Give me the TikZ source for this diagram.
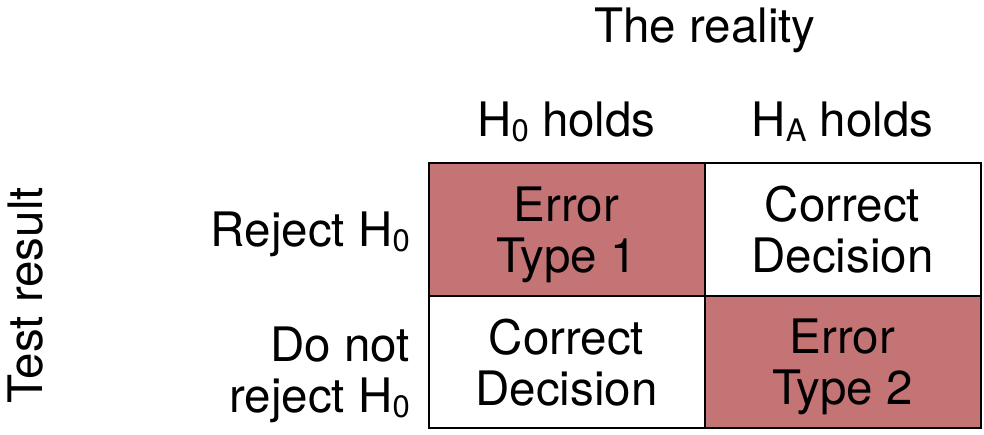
\documentclass[tikz,border=0pt]{standalone}
\usepackage{fontspec}
\setmainfont{TeX Gyre Heros}
\definecolor{errred}{RGB}{196,116,116}
\newcommand{\sbs}[1]{\raisebox{-0.09em}{\fontsize{31}{31}\selectfont #1}}
\begin{document}
\begin{tikzpicture}[x=1pt,y=-1pt,
  txt/.style={font=\fontsize{47.5}{51}\selectfont, inner sep=0pt, align=center},
  cell/.style={draw=black, line width=2pt, minimum width=276pt, minimum height=132.5pt, inner sep=0pt, txt, text depth=0pt},
  err/.style={cell, fill=errred}]
\useasboundingbox (0,0) rectangle (984,435);
\node[err]  (c11) at (566.5,229.5) {Error\\Type 1};
\node[cell] (c12) at (842.5,229.5) {Correct\\Decision};
\node[cell] (c21) at (566.5,362) {Correct\\Decision};
\node[err]  (c22) at (842.5,362) {Error\\Type 2};
\node[txt, anchor=base] (real) at (705,43) {The reality};
\node[txt, anchor=base] (h0) at (566.5,137) {H\sbs{0} holds};
\node[txt, anchor=base] (ha) at (842.5,137) {H\sbs{A} holds};
\node[txt, anchor=base east] (rej) at (410,247) {Reject H\sbs{0}};
\node[txt, align=right, anchor=east, text depth=0pt] (nrej) at (410,370) {Do not\\reject H\sbs{0}};
\node[txt, rotate=90, anchor=base] (test) at (42,295.5) {Test result};
\end{tikzpicture}
\end{document}
